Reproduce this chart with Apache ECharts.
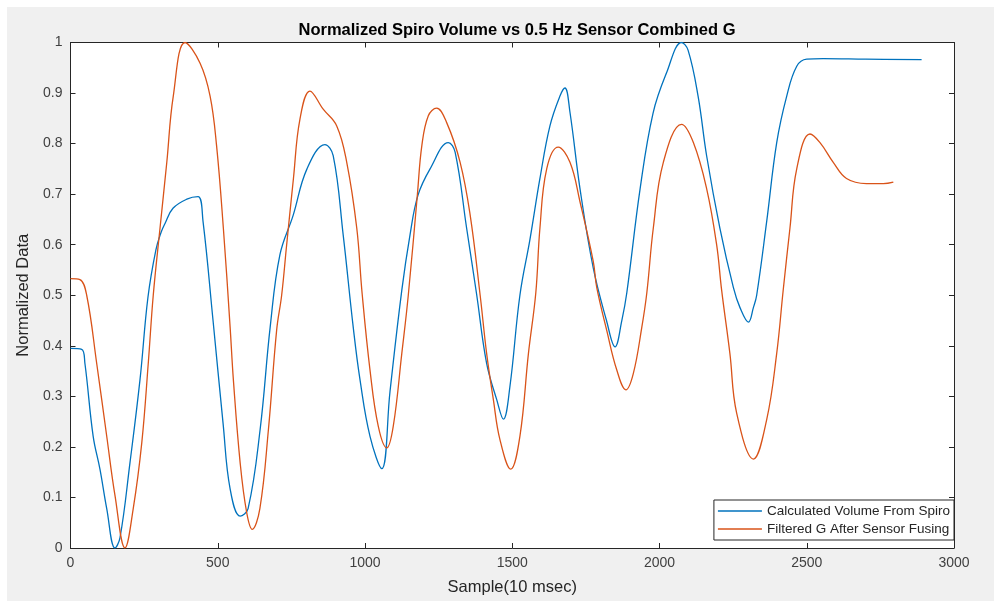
<!DOCTYPE html>
<html>
<head>
<meta charset="utf-8">
<script src="https://cdn.jsdelivr.net/npm/echarts@6/dist/echarts.min.js"></script>
<style>
  html, body { margin: 0; padding: 0; background: #fff; }
  #chart { position: absolute; left: 7px; top: 7px; width: 987px; height: 594px; background: #f0f0f0; }
</style>
</head>
<body>
<div id="chart"></div>
<script>
// samples (10 msec) and normalized values
const spiroX = [0, 38, 49, 77, 100, 123, 151, 168, 202, 236, 263, 290, 308, 321, 348, 395, 433, 450, 484, 518, 542, 576, 603, 644, 678, 711, 756, 803, 864, 892, 926, 960, 983, 1017, 1057, 1085, 1125, 1153, 1180, 1221, 1283, 1306, 1345, 1379, 1413, 1447, 1470, 1492, 1526, 1560, 1594, 1628, 1662, 1679, 1696, 1730, 1775, 1820, 1849, 1872, 1889, 1934, 1978, 2024, 2075, 2097, 2131, 2160, 2205, 2251, 2273, 2302, 2319, 2330, 2364, 2398, 2432, 2466, 2500, 2556, 2700, 2890]
const spiroY = [0.395, 0.393, 0.365, 0.221, 0.156, 0.078, 0.0, 0.02, 0.169, 0.333, 0.496, 0.59, 0.625, 0.642, 0.672, 0.69, 0.695, 0.646, 0.45, 0.247, 0.117, 0.063, 0.078, 0.235, 0.437, 0.58, 0.658, 0.75, 0.798, 0.776, 0.619, 0.437, 0.333, 0.221, 0.157, 0.31, 0.51, 0.62, 0.698, 0.75, 0.802, 0.783, 0.633, 0.502, 0.365, 0.294, 0.255, 0.319, 0.5, 0.61, 0.731, 0.835, 0.894, 0.91, 0.862, 0.711, 0.554, 0.45, 0.398, 0.45, 0.505, 0.71, 0.86, 0.94, 1.0, 0.985, 0.894, 0.776, 0.633, 0.515, 0.476, 0.447, 0.476, 0.5, 0.646, 0.802, 0.894, 0.953, 0.967, 0.968, 0.967, 0.966]

const fusedX = [0, 32, 55, 89, 123, 151, 185, 213, 242, 264, 281, 304, 327, 349, 389, 440, 474, 496, 519, 542, 553, 576, 598, 617, 643, 672, 700, 717, 734, 757, 779, 813, 858, 904, 938, 972, 990, 1017, 1045, 1074, 1096, 1125, 1147, 1178, 1193, 1215, 1243, 1277, 1323, 1357, 1391, 1413, 1436, 1458, 1495, 1526, 1555, 1580, 1594, 1617, 1656, 1696, 1730, 1775, 1787, 1821, 1855, 1886, 1911, 1940, 1957, 1979, 2013, 2075, 2115, 2160, 2194, 2211, 2239, 2262, 2319, 2364, 2398, 2420, 2443, 2466, 2511, 2545, 2590, 2635, 2703, 2760, 2794]
const fusedY = [0.533, 0.531, 0.5, 0.365, 0.221, 0.104, 0.0, 0.078, 0.208, 0.365, 0.5, 0.633, 0.763, 0.894, 1.0, 0.959, 0.894, 0.796, 0.633, 0.437, 0.333, 0.169, 0.071, 0.037, 0.078, 0.234, 0.431, 0.5, 0.6, 0.731, 0.848, 0.904, 0.868, 0.835, 0.763, 0.633, 0.505, 0.352, 0.241, 0.198, 0.241, 0.385, 0.5, 0.7, 0.796, 0.855, 0.87, 0.842, 0.763, 0.659, 0.5, 0.385, 0.293, 0.215, 0.156, 0.221, 0.385, 0.505, 0.633, 0.75, 0.793, 0.763, 0.685, 0.567, 0.515, 0.43, 0.352, 0.313, 0.345, 0.437, 0.505, 0.633, 0.763, 0.838, 0.802, 0.711, 0.6, 0.51, 0.385, 0.267, 0.176, 0.254, 0.385, 0.51, 0.633, 0.75, 0.819, 0.802, 0.763, 0.731, 0.721, 0.721, 0.724]

const seriesNames = ['Calculated Volume From Spiro', 'Filtered G After Sensor Fusing']
const colors = ['#0072BD', '#D95319']

const zip = (xs, ys) => xs.map((x, i) => [x, ys[i]])

const chart = echarts.init(document.getElementById('chart'))
const font = 'Liberation Sans, Arial, Helvetica, sans-serif'
const ink = '#262626'
const label = '#404040'

const tick = { show: true, inside: true, length: 5, lineStyle: { color: ink } }
const line = { show: true, onZero: false, lineStyle: { color: ink, width: 1 } }
const mirror = { axisLine: line, axisTick: tick, axisLabel: { show: false }, splitLine: { show: false } }

chart.setOption({
  backgroundColor: '#f0f0f0',
  animation: false,
  title: {
    text: 'Normalized Spiro Volume vs 0.5 Hz Sensor Combined G',
    left: 505, top: 10, textAlign: 'center',
    textStyle: { fontFamily: font, fontSize: 16.5, fontWeight: 'bold', color: '#000' },
  },
  grid: { left: 63.5, right: 40, top: 35.5, bottom: 48, show: true, backgroundColor: '#fff', borderWidth: 0 },
  legend: {
    orient: 'vertical', right: 40, bottom: 61,
    data: seriesNames,
    icon: 'rect', itemWidth: 44, itemHeight: 1.5, itemGap: 4,
    padding: [4, 4, 4, 4],
    backgroundColor: '#fff', borderColor: ink, borderWidth: 1,
    textStyle: { fontFamily: font, fontSize: 13.5, color: ink },
  },
  xAxis: [{
    type: 'value', min: 0, max: 3000, interval: 500,
    name: 'Sample(10 msec)', nameLocation: 'middle', nameGap: 31,
    nameTextStyle: { fontFamily: font, fontSize: 16.5, color: ink },
    axisLine: line, axisTick: tick,
    axisLabel: { fontFamily: font, fontSize: 14, color: label, margin: 8, formatter: v => String(v) },
    splitLine: { show: false },
  }, {
    type: 'value', min: 0, max: 3000, interval: 500, position: 'top', ...mirror,
  }],
  yAxis: [{
    type: 'value', min: 0, max: 1, interval: 0.1,
    name: 'Normalized Data', nameLocation: 'middle', nameGap: 32,
    nameTextStyle: { fontFamily: font, fontSize: 16.5, color: ink },
    axisLine: line, axisTick: tick,
    axisLabel: { fontFamily: font, fontSize: 14, color: label, margin: 8 },
    splitLine: { show: false },
  }, {
    type: 'value', min: 0, max: 1, interval: 0.1, position: 'right', ...mirror,
  }],
  series: [
    { name: seriesNames[0], type: 'line', data: zip(spiroX, spiroY), smooth: 0.4, symbol: 'none',
      lineStyle: { color: colors[0], width: 1.3 }, itemStyle: { color: colors[0] } },
    { name: seriesNames[1], type: 'line', data: zip(fusedX, fusedY), smooth: 0.4, symbol: 'none',
      lineStyle: { color: colors[1], width: 1.3 }, itemStyle: { color: colors[1] } },
  ],
})
</script>
</body>
</html>
